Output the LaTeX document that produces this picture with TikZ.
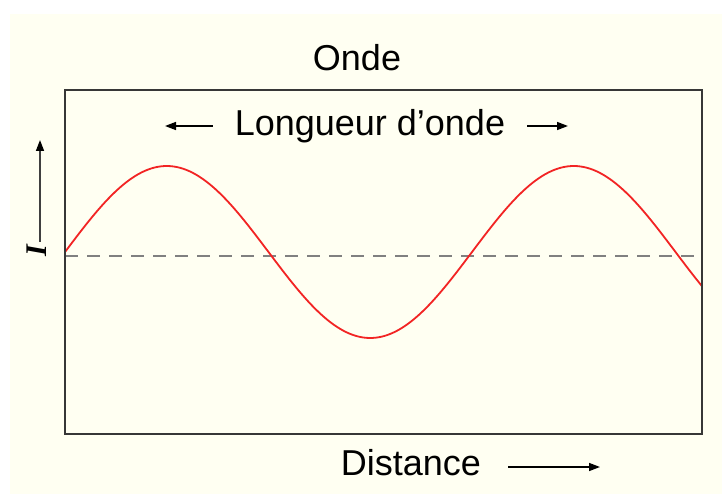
\documentclass[tikz,border=0pt]{standalone}
\usepackage{fontspec}
\setmainfont{Liberation Sans}
\newfontfamily\serifbi{Liberation Serif}
\usetikzlibrary{arrows.meta}
\definecolor{cream}{RGB}{255,255,242}
\definecolor{wavered}{RGB}{242,36,36}
\definecolor{frame}{RGB}{55,55,55}

\begin{document}
\begin{tikzpicture}[x=1pt, y=-1pt,
    every node/.style={inner sep=0pt, font=\fontsize{36}{40}\selectfont},
    label arrow/.style={line width=1.5pt, -{Triangle[length=11pt, width=8pt]}}]

        \useasboundingbox (0,0) rectangle (722,494);
        \fill[cream] (10,14) rectangle (722,494);

        \def\axis{256} % height of the zero line
        \def\mid{252} % middle of the wave
        \def\amp{86} % amplitude of the wave
        \def\wavelen{407} % one period

        \coordinate (boxnw) at (65,90);
        \coordinate (boxse) at (702,434);

        % the wave and its axis
        \draw[gray, line width=1.8pt, dash pattern=on 13pt off 9pt] (65,\axis) -- (702,\axis);
        \draw[wavered, line width=1.8pt, domain=65:702, samples=200, smooth]
          plot (\x, {\mid - \amp*sin((360/\wavelen)*(\x-65))});

        \draw[frame, line width=2pt] (boxnw) rectangle (boxse);

        \node[anchor=base] (title) at (357,71) {Onde};
        \node[anchor=base] (wavelabel) at (370,136) {Longueur d’onde};
        \node[anchor=base] (distlabel) at (411,475) {Distance};
        \node[rotate=90, font=\serifbi\bfseries\itshape\fontsize{30}{30}\selectfont] (ilabel) at (37,251) {I};

        \coordinate (lefttip) at (165,126);
        \coordinate (righttip) at (568,126);
        \coordinate (disttip) at (600,467);
        \coordinate (itip) at (40,140);

        \draw[label arrow, shorten <=22pt] (wavelabel.west |- lefttip) -- (lefttip);
        \draw[label arrow, shorten <=22pt] (wavelabel.east |- righttip) -- (righttip);
        \draw[label arrow, shorten <=27pt] (distlabel.east |- disttip) -- (disttip);
        \draw[label arrow, draw=darkgray, -{Triangle[length=11pt, width=8pt, color=black]}, shorten <=3pt]
          (ilabel.east -| itip) -- (itip);

      \end{tikzpicture}
\end{document}
